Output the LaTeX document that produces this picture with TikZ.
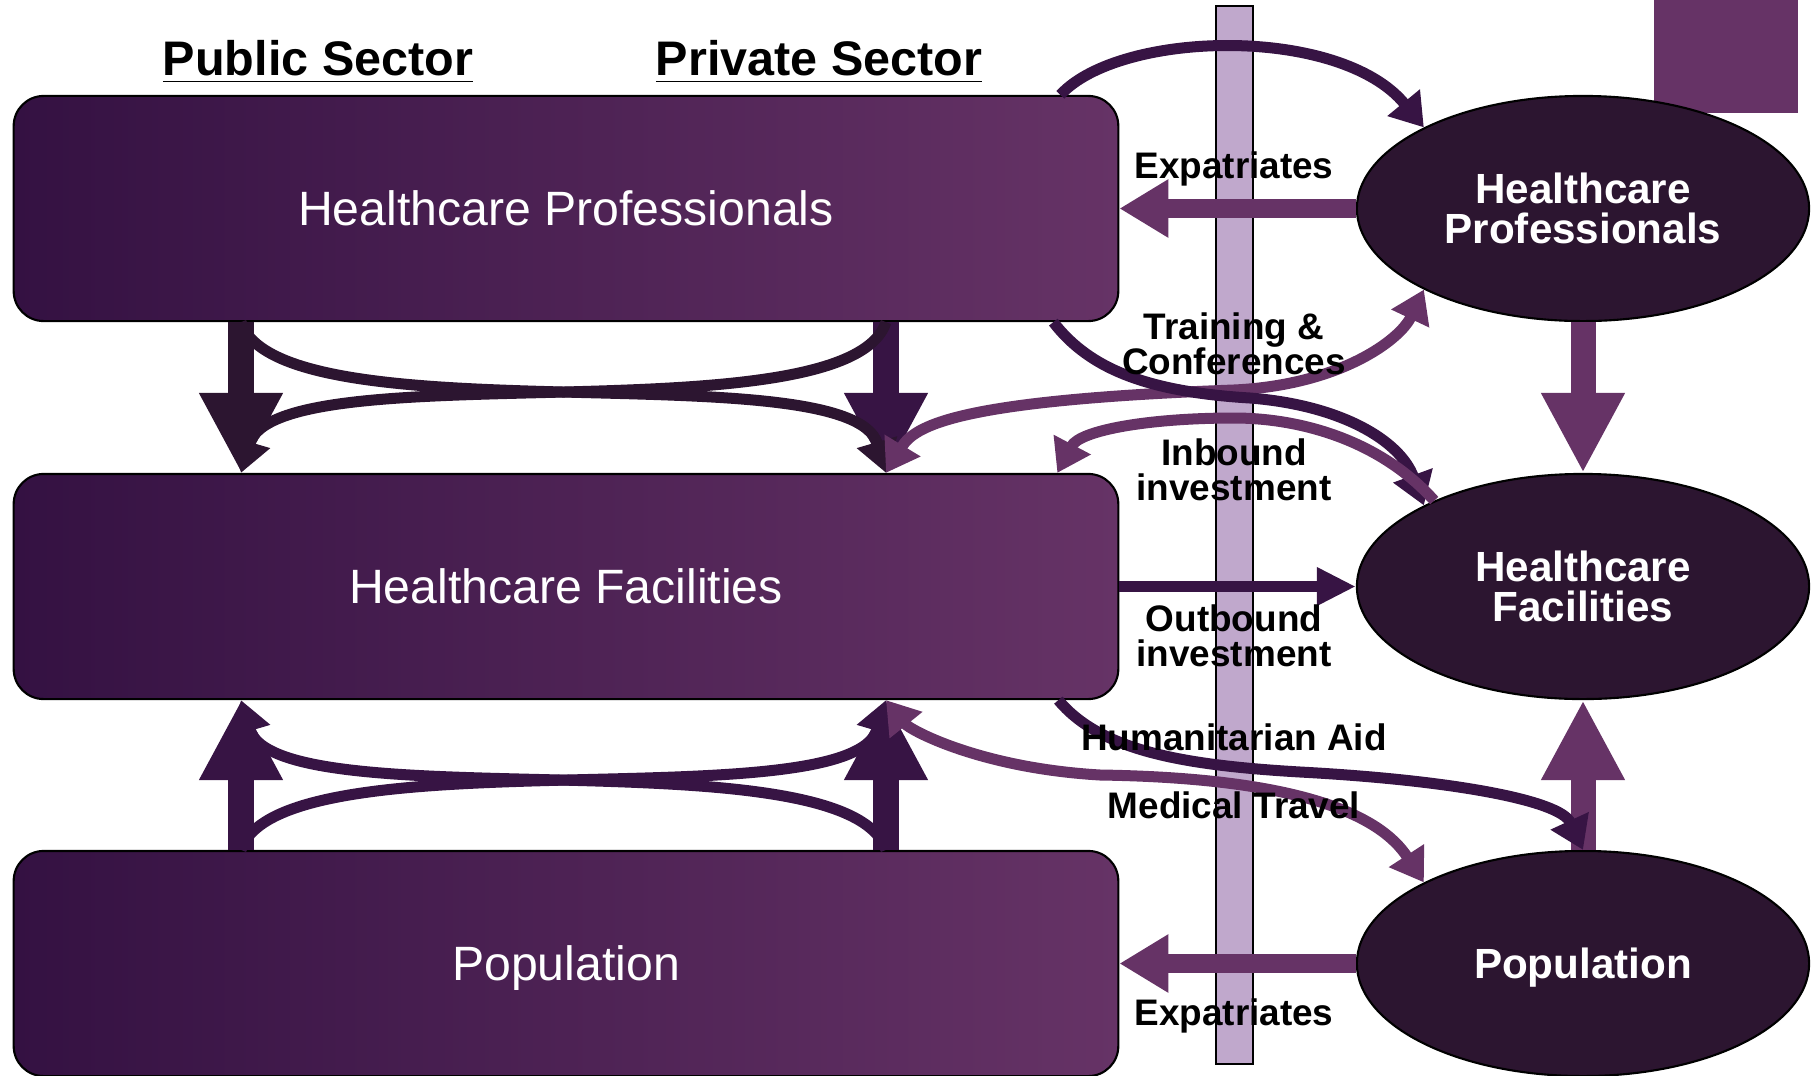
\documentclass[tikz,border=0pt]{standalone}
\usepackage{fontspec}
\setmainfont{Liberation Sans}
\usetikzlibrary{shapes.geometric,arrows.meta}
\definecolor{plum}{HTML}{663366}
\definecolor{darkplum}{HTML}{371444}
\definecolor{nightplum}{HTML}{2C1530}
\definecolor{boxleft}{HTML}{341142}
\definecolor{lilac}{HTML}{C0A8CC}

\begin{document}
\begin{tikzpicture}[x=0.01cm, y=-0.01cm,
        homebox/.style={rounded corners=0.3cm, draw=black, line width=0.6pt,
            left color=boxleft, right color=plum,
            minimum width=11.04cm, minimum height=2.25cm,
            text=white, font=\fontsize{13.7}{16}\selectfont},
        abroad/.style={ellipse, draw=black, line width=0.6pt, fill=nightplum,
            minimum width=4.52cm, minimum height=2.25cm, text=white,
            align=center, font=\bfseries\fontsize{12}{11.5}\selectfont},
        flowtext/.style={align=center, font=\bfseries\fontsize{10.5}{10}\selectfont},
        heading/.style={font=\bfseries\fontsize{13.8}{16}\selectfont},
        bighead/.tip={Triangle[length=0.8cm,width=0.78cm]},
        midhead/.tip={Triangle[length=0.49cm,width=0.55cm]},
        smallhead/.tip={Triangle[length=0.32cm,width=0.4cm]},
        thickflow/.style={line width=0.25cm, -bighead},
        expatflow/.style={line width=0.19cm, -midhead, plum},
        thinflow/.style={line width=0.11cm, -smallhead},
    ]
    \useasboundingbox (0,0) rectangle (1811,1075);
    % Border bar and corner block
    \filldraw[fill=lilac, draw=black, line width=0.6pt] (1216,6) rectangle (1253,1064);
    \fill[plum] (1654,0) rectangle (1798,113);
    \coordinate (pub) at (241,0);
    \coordinate (prv) at (886,0);
    % Add boxes
    \node[heading] (pubhead) at (318,62) {\underline{Public Sector}};
    \node[heading] (prvhead) at (819,62) {\underline{Private Sector}};
    \node[homebox] (hp) at (566,208.5) {Healthcare Professionals};
    \node[homebox] (hf) at (566,586.5) {Healthcare Facilities};
    \node[homebox, text depth=0pt] (pop) at (566,963.5) {Population};
    \node[abroad] (fhp) at (1583,208.5) {Healthcare\\Professionals};
    \node[abroad] (fhf) at (1583,586.5) {Healthcare\\Facilities};
    \node[abroad, text depth=0pt] (fpop) at (1583,963.5) {Population};
    % Draw flows between sectors
    \draw[thickflow, nightplum] (hp.south -| pub) -- (hf.north -| pub);
    \draw[thickflow, darkplum] (hp.south -| prv) -- (hf.north -| prv);
    \draw[thickflow, darkplum] (pop.north -| pub) -- (hf.south -| pub);
    \draw[thickflow, darkplum] (pop.north -| prv) -- (hf.south -| prv);
    \draw[thinflow, nightplum] (hp.south -| pub) .. controls (280,440) and (850,350) .. (hf.north -| prv);
    \draw[thinflow, nightplum] (hp.south -| prv) .. controls (847,440) and (277,350) .. (hf.north -| pub);
    \draw[thinflow, darkplum] (pop.north -| pub) .. controls (280,732) and (850,822) .. (hf.south -| prv);
    \draw[thinflow, darkplum] (pop.north -| prv) .. controls (847,732) and (277,822) .. (hf.south -| pub);
    \draw[thickflow, plum] (fhp.south) -- (fhf.north);
    \draw[thickflow, plum] (fpop.north) -- (fhf.south);
    % Draw flows across the border
    \draw[expatflow] (fhp.west) -- (hp.east);
    \draw[expatflow] (fpop.west) -- (pop.east);
    \draw[line width=0.11cm, -{Triangle[length=0.39cm,width=0.36cm]}, darkplum] (hf.east) -- (fhf.west);
    \draw[thinflow, darkplum] ([xshift=-0.59cm]hp.north east) .. controls (1120,30) and (1340,25) .. (fhp.153);
    \draw[thinflow, plum, smallhead-smallhead] (hf.north -| prv) .. controls (915,425) and (960,400) .. (1234,390)
        .. controls (1340,385) and (1400,340) .. (fhp.207);
    \draw[thinflow, darkplum] ([xshift=-0.66cm]hp.south east) .. controls (1090,370) and (1150,392) .. (1250,398)
        .. controls (1340,405) and (1400,440) .. (fhf.153);
    \draw[thinflow, plum] (fhf.150) .. controls (1380,440) and (1300,418) .. (1234,418)
        .. controls (1150,418) and (1080,430) .. ([xshift=-0.62cm]hf.north east);
    \draw[thinflow, darkplum] ([xshift=-0.61cm]hf.south east) .. controls (1100,750) and (1180,765) .. (1300,772)
        .. controls (1450,780) and (1560,800) .. (fpop.north);
    \draw[thinflow, plum, smallhead-smallhead] (hf.south -| prv) .. controls (910,730) and (980,768) .. (1100,775)
        .. controls (1300,778) and (1380,815) .. (fpop.153);
    % Add labels
    \node[flowtext] (expattop) at (1234,169) {Expatriates};
    \node[flowtext] (train) at (1234,344) {Training \&\\Conferences};
    \node[flowtext] (inbound) at (1234,470) {Inbound\\investment};
    \node[flowtext] (outbound) at (1234,636) {Outbound\\investment};
    \node[flowtext] (aid) at (1234,737) {Humanitarian Aid};
    \node[flowtext] (travel) at (1234,805) {Medical Travel};
    \node[flowtext] (expatbot) at (1234,1016) {Expatriates};
\end{tikzpicture}
\end{document}
